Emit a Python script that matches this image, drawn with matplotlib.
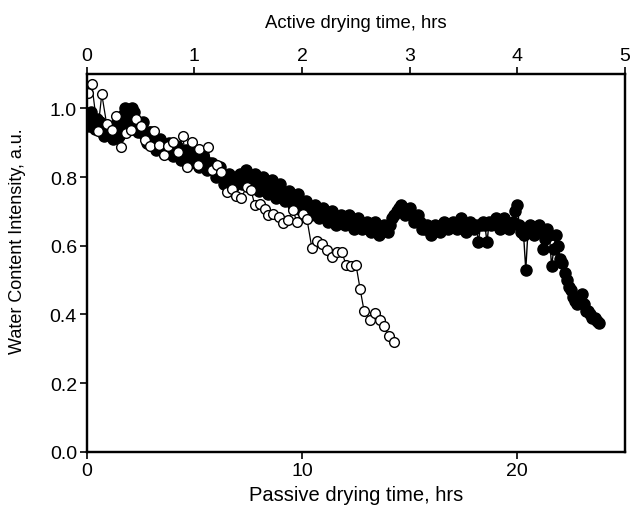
import matplotlib
matplotlib.use("Agg")
import matplotlib.pyplot as plt

plt.rcParams["font.family"] = ["Liberation Sans", "DejaVu Sans"]

# Passive drying (bottom axis, hours) - filled circles, sampled every 0.1 h;
# readings on the even and odd tenths are kept in two lists.
passive_t_a = [0.0, 0.2, 0.4, 0.6, 0.8, 1.0, 1.2, 1.4, 1.6, 1.8,
               2.0, 2.2, 2.4, 2.6, 2.8, 3.0, 3.2, 3.4, 3.6, 3.8,
               4.0, 4.2, 4.4, 4.6, 4.8, 5.0, 5.2, 5.4, 5.6, 5.8,
               6.0, 6.2, 6.4, 6.6, 6.8, 7.0, 7.2, 7.4, 7.6, 7.8,
               8.0, 8.2, 8.4, 8.6, 8.8, 9.0, 9.2, 9.4, 9.6, 9.8,
               10.0, 10.2, 10.4, 10.6, 10.8, 11.0, 11.2, 11.4, 11.6, 11.8,
               12.0, 12.2, 12.4, 12.6, 12.8, 13.0, 13.2, 13.4, 13.6, 13.8,
               14.0, 14.2, 14.4, 14.6, 14.8, 15.0, 15.2, 15.4, 15.6, 15.8,
               16.0, 16.2, 16.4, 16.6, 16.8, 17.0, 17.2, 17.4, 17.6, 17.8,
               18.0, 18.2, 18.4, 18.6, 18.8, 19.0, 19.2, 19.4, 19.6, 19.8,
               20.0, 20.2, 20.4, 20.6, 20.8, 21.0, 21.2, 21.4, 21.6, 21.8,
               22.0, 22.2, 22.4, 22.6, 22.8, 23.0, 23.2, 23.4, 23.6, 23.8]
passive_y_a = [0.97, 0.99, 0.94, 0.96, 0.92, 0.95, 0.91, 0.96, 0.95, 1.00,
               0.97, 0.99, 0.93, 0.96, 0.90, 0.93, 0.88, 0.91, 0.87, 0.90,
               0.86, 0.89, 0.85, 0.88, 0.84, 0.87, 0.83, 0.86, 0.82, 0.84,
               0.80, 0.83, 0.78, 0.81, 0.77, 0.80, 0.78, 0.82, 0.77, 0.81,
               0.76, 0.80, 0.75, 0.79, 0.74, 0.78, 0.73, 0.76, 0.72, 0.75,
               0.70, 0.73, 0.69, 0.72, 0.68, 0.71, 0.67, 0.70, 0.66, 0.69,
               0.66, 0.69, 0.65, 0.68, 0.65, 0.67, 0.64, 0.67, 0.63, 0.66,
               0.64, 0.68, 0.70, 0.72, 0.69, 0.71, 0.67, 0.69, 0.65, 0.66,
               0.63, 0.66, 0.64, 0.67, 0.65, 0.67, 0.65, 0.68, 0.64, 0.67,
               0.65, 0.61, 0.67, 0.61, 0.66, 0.68, 0.65, 0.68, 0.65, 0.67,
               0.72, 0.64, 0.53, 0.66, 0.63, 0.66, 0.59, 0.65, 0.54, 0.63,
               0.56, 0.52, 0.48, 0.45, 0.43, 0.46, 0.41, 0.40, 0.39, 0.375]
passive_t_b = [0.1, 0.3, 0.5, 0.7, 0.9, 1.1, 1.3, 1.5, 1.7, 1.9,
               2.1, 2.3, 2.5, 2.7, 2.9, 3.1, 3.3, 3.5, 3.7, 3.9,
               4.1, 4.3, 4.5, 4.7, 4.9, 5.1, 5.3, 5.5, 5.7, 5.9,
               6.1, 6.3, 6.5, 6.7, 6.9, 7.1, 7.3, 7.5, 7.7, 7.9,
               8.1, 8.3, 8.5, 8.7, 8.9, 9.1, 9.3, 9.5, 9.7, 9.9,
               10.1, 10.3, 10.5, 10.7, 10.9, 11.1, 11.3, 11.5, 11.7, 11.9,
               12.1, 12.3, 12.5, 12.7, 12.9, 13.1, 13.3, 13.5, 13.7, 13.9,
               14.1, 14.3, 14.5, 14.7, 14.9, 15.1, 15.3, 15.5, 15.7, 15.9,
               16.1, 16.3, 16.5, 16.7, 16.9, 17.1, 17.3, 17.5, 17.7, 17.9,
               18.1, 18.3, 18.5, 18.7, 18.9, 19.1, 19.3, 19.5, 19.7, 19.9,
               20.1, 20.3, 20.5, 20.7, 20.9, 21.1, 21.3, 21.5, 21.7, 21.9,
               22.1, 22.3, 22.5, 22.7, 22.9, 23.1, 23.3, 23.5, 23.7]
passive_y_b = [0.95, 0.96, 0.97, 0.93, 0.94, 0.93, 0.94, 0.92, 0.98, 0.96,
               1.00, 0.95, 0.94, 0.92, 0.93, 0.90, 0.90, 0.88, 0.89, 0.87,
               0.88, 0.86, 0.87, 0.85, 0.86, 0.84, 0.85, 0.83, 0.84, 0.82,
               0.81, 0.80, 0.80, 0.79, 0.78, 0.81, 0.80, 0.79, 0.80, 0.78,
               0.78, 0.77, 0.77, 0.76, 0.76, 0.75, 0.75, 0.74, 0.73, 0.72,
               0.72, 0.71, 0.70, 0.70, 0.69, 0.69, 0.68, 0.68, 0.67, 0.67,
               0.67, 0.66, 0.67, 0.66, 0.66, 0.65, 0.66, 0.65, 0.65, 0.65,
               0.66, 0.69, 0.71, 0.70, 0.70, 0.69, 0.68, 0.67, 0.65, 0.65,
               0.65, 0.65, 0.66, 0.66, 0.66, 0.66, 0.66, 0.66, 0.66, 0.66,
               0.66, 0.66, 0.66, 0.67, 0.67, 0.66, 0.67, 0.66, 0.66, 0.70,
               0.66, 0.63, 0.64, 0.65, 0.65, 0.64, 0.62, 0.63, 0.59, 0.60,
               0.55, 0.50, 0.47, 0.44, 0.44, 0.43, 0.41, 0.39, 0.38]

# Active drying (top axis, hours) - open circles
active_t = [0.009, 0.047, 0.102, 0.140, 0.186, 0.233, 0.270, 0.316, 0.363, 0.409,
            0.456, 0.502, 0.540, 0.586, 0.623, 0.670, 0.716, 0.753, 0.800, 0.847,
            0.893, 0.930, 0.977, 1.033, 1.042, 1.126, 1.163, 1.209, 1.247, 1.302,
            1.349, 1.386, 1.433, 1.488, 1.526, 1.563, 1.609, 1.656, 1.684, 1.730,
            1.786, 1.823, 1.870, 1.916, 1.953, 2.009, 2.047, 2.093, 2.140, 2.186,
            2.233, 2.279, 2.326, 2.372, 2.409, 2.456, 2.502, 2.540, 2.577, 2.633,
            2.679, 2.726, 2.763, 2.809, 2.856]
active_y = [1.044, 1.070, 0.933, 1.041, 0.953, 0.938, 0.979, 0.886, 0.927, 0.938,
            0.968, 0.950, 0.909, 0.889, 0.933, 0.894, 0.865, 0.891, 0.903, 0.874,
            0.918, 0.830, 0.903, 0.836, 0.883, 0.886, 0.821, 0.836, 0.815, 0.757,
            0.765, 0.745, 0.739, 0.771, 0.762, 0.718, 0.721, 0.707, 0.689, 0.692,
            0.683, 0.666, 0.674, 0.704, 0.669, 0.692, 0.677, 0.592, 0.613, 0.604,
            0.589, 0.566, 0.581, 0.581, 0.545, 0.540, 0.545, 0.475, 0.411, 0.384,
            0.405, 0.384, 0.367, 0.337, 0.320]

# merge the two passive reading lists into one time-ordered record
passive = sorted(zip(passive_t_a + passive_t_b, passive_y_a + passive_y_b))
passive_t = [p[0] for p in passive]
passive_y = [p[1] for p in passive]

fig = plt.figure(figsize=(6.33, 5.10), dpi=100)
ax = fig.add_axes([0.137, 0.112, 0.850, 0.741])

ax.plot(passive_t, passive_y, "-o", color="black", lw=1.0,
        ms=8, mfc="black", mec="black", mew=1.0)

ax.set_xlim(0, 25)
ax.set_ylim(0, 1.1)
ax.set_xticks([0, 10, 20])
ax.set_yticks([0.0, 0.2, 0.4, 0.6, 0.8, 1.0])
ax.set_yticklabels(["0.0", "0.2", "0.4", "0.6", "0.8", "1.0"])
ax.tick_params(axis="both", direction="out", length=5, width=1.2,
               labelsize=14, pad=2)
ax.tick_params(axis="y", right=False)
ax.set_xlabel("Passive drying time, hrs", fontsize=14.5)
ax.xaxis.set_label_coords(0.5, -0.088)
ax.set_ylabel("Water Content Intensity, a.u.", fontsize=13)
ax.yaxis.set_label_coords(-0.112, 0.56)

ax2 = ax.twiny()
ax2.plot(active_t, active_y, "-o", color="black", lw=0.9,
         ms=7, mfc="white", mec="black", mew=1.0)
ax2.set_xlim(0, 5)
ax2.set_xticks([0, 1, 2, 3, 4, 5])
ax2.tick_params(axis="x", direction="out", length=5, width=1.2,
                labelsize=14, pad=2)
ax2.set_xlabel("Active drying time, hrs", fontsize=13.3)
ax2.xaxis.set_label_coords(0.5, 1.125)

for a in (ax, ax2):
    for s in a.spines.values():
        s.set_linewidth(1.6)

fig.savefig("out.png", dpi=100)
